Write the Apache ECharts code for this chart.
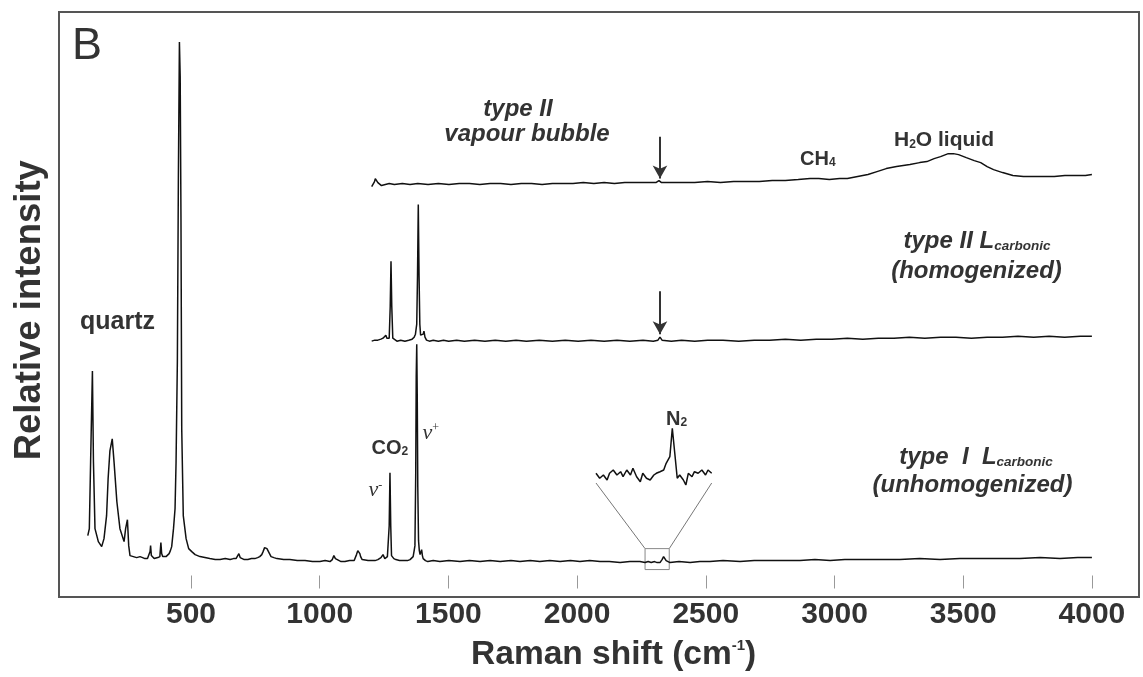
<!DOCTYPE html>
<html>
<head>
<meta charset="utf-8">
<script src="https://cdn.jsdelivr.net/npm/echarts@6/dist/echarts.min.js"></script>
<style>
  html, body { margin: 0; padding: 0; background: #fff; }
  #chart { width: 1143px; height: 677px; }
</style>
</head>
<body>
<div id="chart"></div>
<script>
// Raman spectra of fluid inclusions, stacked with a vertical offset.
// Shift in cm-1, intensity in arbitrary (offset) units.

const xTicks = [500, 1000, 1500, 2000, 2500, 3000, 3500, 4000];

// type I, L carbonic (unhomogenized) – includes the quartz host bands
const typeIShift = [99,105,110,117,121,127,140,153,162,172,178,185,194,201,212,224,240,246,253,258,263,276,289,302,312,321,331,337,341,343,346,349,357,364,371,379,381,383,386,390,397,403,409,415,420,425,432,438,442,447,451,455,458,461,464,470,481,491,503,516,535,554,573,594,613,633,652,665,675,681,686,691,694,707,721,735,748,759,767,775,780,786,790,795,799,805,811,822,834,860,884,913,943,972,1001,1021,1040,1049,1055,1061,1067,1083,1098,1116,1134,1139,1143,1148,1152,1156,1159,1165,1172,1188,1203,1215,1226,1238,1242,1246,1250,1253,1258,1263,1267,1270,1273,1276,1279,1282,1288,1296,1310,1327,1341,1351,1358,1363,1367,1370,1373,1375,1377,1379,1381,1384,1387,1390,1393,1396,1399,1402,1411,1420,1441,1467,1502,1545,1582,1623,1662,1701,1743,1778,1818,1855,1894,1934,1974,2011,2049,2089,2125,2167,2205,2244,2264,2276,2288,2301,2311,2318,2322,2326,2330,2336,2346,2361,2396,2439,2477,2516,2567,2633,2688,2749,2809,2866,2924,2983,3040,3099,3170,3254,3331,3410,3487,3566,3643,3720,3799,3876,3945,4000];
const typeIIntensity = [60,67,134,225,134,67,54,49,57,80,117,145,157,134,94,67,54,67,76,50,40,39,38,39,38,37,37,38,44,50,40,38,37,37,38,39,46,53,42,39,38,39,40,42,45,49,67,87,134,234,420,555,520,380,167,80,57,47,44,41,39,38,37,36,36,37,36,37,37,39,42,38,37,36,36,37,37,38,39,41,44,48,49,47,45,42,39,38,37,36,36,35,35,34,34,35,34,36,40,37,35,34,34,35,35,37,41,45,47,42,39,36,35,35,35,35,36,38,40,41,39,37,38,39,40,70,123,70,40,39,37,36,35,35,35,36,37,39,45,50,120,220,252,200,110,55,45,41,43,46,40,37,35,34,35,34,35,34,35,34,35,34,35,34,35,34,35,34,35,34,35,34,34,33,34,34,33,34,33,34,33,34,33,34,36,39,35,33,34,33,34,34,35,34,35,35,35,35,36,35,36,36,36,36,37,36,37,37,37,37,38,37,38,38,38,38];

// type II, L carbonic (homogenized)
const typeIIShift = [1202,1214,1226,1238,1246,1252,1257,1261,1266,1270,1274,1277,1280,1284,1290,1300,1315,1331,1346,1359,1367,1372,1374,1377,1380,1383,1386,1389,1392,1397,1402,1405,1409,1415,1426,1441,1461,1481,1501,1532,1562,1602,1642,1682,1723,1763,1803,1853,1904,1954,2004,2054,2105,2155,2205,2256,2296,2314,2322,2330,2366,2406,2457,2507,2567,2628,2688,2748,2809,2869,2929,2990,3050,3110,3170,3231,3291,3351,3412,3472,3532,3593,3653,3713,3774,3834,3894,3955,4000];
const typeIIIntensity = [255,256,256,257,258,260,261,258,257,258,290,335,290,258,256,255,256,255,256,257,259,262,264,272,320,392,320,272,261,259,262,265,259,256,255,256,255,256,255,256,255,256,255,256,255,256,255,256,255,256,255,256,255,256,255,256,255,256,259,256,255,256,255,256,256,255,256,256,257,256,257,257,258,257,258,258,259,258,259,259,258,259,259,260,259,260,259,260,260];

// type II, vapour bubble
const vapourShift = [1202,1208,1213,1216,1219,1222,1226,1232,1240,1255,1270,1290,1321,1351,1381,1421,1461,1502,1542,1582,1622,1662,1703,1743,1783,1823,1864,1904,1944,1984,2024,2065,2105,2145,2185,2225,2266,2306,2318,2322,2328,2366,2406,2457,2507,2557,2608,2658,2708,2758,2809,2859,2905,2939,2980,3020,3050,3090,3130,3165,3201,3241,3293,3331,3359,3387,3412,3442,3462,3482,3512,3543,3568,3593,3618,3653,3693,3734,3774,3814,3854,3895,3935,3975,4000];
const vapourIntensity = [410,412,415,418,420,417,414,412,411,412,413,412,413,412,413,412,413,412,413,413,412,413,413,412,413,413,412,413,413,413,414,413,414,413,414,414,414,414,416,416,414,414,414,414,415,414,415,415,415,416,416,417,418,418,417,418,418,420,422,425,428,430,432,434,435,438,440,443,443,442,439,436,434,430,427,424,421,420,420,420,420,421,421,421,422];

// magnified N2 window of the type I spectrum
const n2Shift = [2264,2267,2270,2273,2275,2278,2281,2284,2286,2289,2292,2294,2297,2300,2302,2305,2308,2311,2313,2316,2319,2321,2324,2326,2328,2330,2332,2335,2337,2339,2342,2344,2347,2350,2353,2355,2358];
const n2Intensity = [11.7,6.7,10,5,11.7,15,10,13.3,8.3,15,10,16.7,8.3,3.3,11.7,6.7,5,10,11.7,13.3,15,21.7,28.3,56.7,31.7,6.7,10,5,0,11.7,8.3,13.3,11.7,15,10,15,11.7];

// window shown in the magnified view
const n2Window = [2264, 2358];
const arrowShift = 2322;

const pairs = (xs, ys) => xs.map((x, i) => [x, ys[i]]);

const SANS = "'Liberation Sans', Arial, Helvetica, sans-serif";
const SERIF = "'Liberation Serif', 'Times New Roman', serif";
const TXT = '#333';

const chart = echarts.init(document.getElementById('chart'), null, { renderer: 'canvas' });

const spectrumLine = { color: '#111', width: 1.5 };

const arrowMark = (from, to) => ({
  silent: true,
  symbol: ['none', 'arrow'],
  symbolSize: [11, 13],
  label: { show: false },
  lineStyle: { color: '#333', width: 2, type: 'solid' },
  data: [[{ coord: [arrowShift, from] }, { coord: [arrowShift, to] }]]
});

function txt(id, x, y, text, font, align, rich) {
  return {
    type: 'text', id: id, x: x, y: y, silent: true,
    style: { text: text, font: font, fill: TXT, align: align || 'left', verticalAlign: 'middle', rich: rich }
  };
}

const bi24 = 'italic bold 24px ' + SANS;
const carbRich = {
  m: { font: bi24, lineHeight: 24, fill: TXT },
  c: { font: 'italic bold 13.5px ' + SANS, lineHeight: 6.6, verticalAlign: 'bottom', fill: TXT }
};

const option = {
  animation: false,
  backgroundColor: '#fff',
  grid: [
    { left: 62.3, top: 12, right: 4, bottom: 80 },
    { left: 596, width: 115.7, top: 420, height: 65 }
  ],
  xAxis: [
    {
      type: 'value', gridIndex: 0, min: 0, max: 4183, interval: 500, offset: -7,
      axisLine: { show: false },
      axisTick: { show: true, inside: true, length: 13, customValues: xTicks, lineStyle: { color: '#999', width: 1 } },
      splitLine: { show: false },
      axisLabel: {
        margin: 11, customValues: xTicks,
        color: TXT, fontWeight: 'bold', fontSize: 30, fontFamily: SANS,
        formatter: v => String(v)
      },
      name: 'Raman shift (cm{p|-1})',
      nameLocation: 'middle', nameGap: 50,
      nameTextStyle: {
        color: TXT, fontWeight: 'bold', fontSize: 33.5, fontFamily: SANS, lineHeight: 33,
        padding: [0, 0, 0, 26],
        rich: { p: { fontSize: 15, fontWeight: 'bold', fontFamily: SANS, lineHeight: 19.6, verticalAlign: 'top', color: TXT } }
      }
    },
    { type: 'value', gridIndex: 1, min: n2Window[0], max: n2Window[1], show: false }
  ],
  yAxis: [
    {
      type: 'value', gridIndex: 0, min: 0, max: 585,
      axisLine: { show: false }, axisTick: { show: false }, axisLabel: { show: false }, splitLine: { show: false },
      name: 'Relative intensity', nameLocation: 'middle', nameRotate: 90, nameGap: 14,
      nameTextStyle: { color: TXT, fontWeight: 'bold', fontSize: 36.5, fontFamily: SANS, padding: [0, 13, 0, 0] }
    },
    { type: 'value', gridIndex: 1, min: 0, max: 65, show: false }
  ],
  series: [
    {
      name: 'type I', type: 'line', xAxisIndex: 0, yAxisIndex: 0,
      data: pairs(typeIShift, typeIIntensity), showSymbol: false, lineStyle: spectrumLine,
      markArea: {
        silent: true,
        itemStyle: { color: 'rgba(0,0,0,0)', borderColor: '#888', borderWidth: 1 },
        data: [[{ coord: [n2Window[0], 47] }, { coord: [n2Window[1], 26] }]]
      }
    },
    {
      name: 'type II homogenized', type: 'line', xAxisIndex: 0, yAxisIndex: 0,
      data: pairs(typeIIShift, typeIIIntensity), showSymbol: false, lineStyle: spectrumLine,
      markLine: arrowMark(305, 262)
    },
    {
      name: 'type II vapour', type: 'line', xAxisIndex: 0, yAxisIndex: 0,
      data: pairs(vapourShift, vapourIntensity), showSymbol: false, lineStyle: spectrumLine,
      markLine: arrowMark(460, 418)
    },
    {
      name: 'N2 detail', type: 'line', xAxisIndex: 1, yAxisIndex: 1,
      data: pairs(n2Shift, n2Intensity), showSymbol: false, lineStyle: { color: '#111', width: 1.5 }
    }
  ],
  graphic: { elements: [
    // plot frame
    { type: 'rect', id: 'frame', silent: true, z: 10, shape: { x: 59, y: 12, width: 1080, height: 585 },
      style: { fill: 'none', stroke: '#555', lineWidth: 2 } },
    txt('panel', 72, 47, 'B', 'normal 45px ' + SANS),
    txt('quartz', 80, 322, 'quartz', 'bold 25px ' + SANS),
    txt('co2', 371.5, 448, '{m|CO}{s|2}', 'bold 20px ' + SANS, 'left', {
      m: { font: 'bold 20px ' + SANS, lineHeight: 20, fill: TXT },
      s: { font: 'bold 12px ' + SANS, lineHeight: 8.4, verticalAlign: 'bottom', fill: TXT }
    }),
    txt('nuMinus', 368.5, 490.6, '{m|\u03bd}{p|-}', 'italic 22px ' + SERIF, 'left', {
      m: { font: 'italic 22px ' + SERIF, lineHeight: 22, fill: TXT },
      p: { font: '12px ' + SERIF, lineHeight: 8, verticalAlign: 'top', fill: TXT }
    }),
    txt('nuPlus', 422.5, 433, '{m|\u03bd}{p|+}', 'italic 22px ' + SERIF, 'left', {
      m: { font: 'italic 22px ' + SERIF, lineHeight: 22, fill: TXT },
      p: { font: '12px ' + SERIF, lineHeight: 8, verticalAlign: 'top', fill: TXT }
    }),
    txt('n2', 666, 419, '{m|N}{s|2}', 'bold 20px ' + SANS, 'left', {
      m: { font: 'bold 20px ' + SANS, lineHeight: 20, fill: TXT },
      s: { font: 'bold 12px ' + SANS, lineHeight: 6.4, verticalAlign: 'bottom', fill: TXT }
    }),
    txt('ch4', 800, 159, '{m|CH}{s|4}', 'bold 20px ' + SANS, 'left', {
      m: { font: 'bold 20px ' + SANS, lineHeight: 20, fill: TXT },
      s: { font: 'bold 12px ' + SANS, lineHeight: 6.4, verticalAlign: 'bottom', fill: TXT }
    }),
    txt('h2o', 894, 140, '{m|H}{s|2}{m|O liquid}', 'bold 21px ' + SANS, 'left', {
      m: { font: 'bold 21px ' + SANS, lineHeight: 21, fill: TXT },
      s: { font: 'bold 12px ' + SANS, lineHeight: 12.7, verticalAlign: 'bottom', fill: TXT }
    }),
    txt('vap1', 518, 109.5, 'type II', bi24, 'center'),
    txt('vap2', 527, 134.5, 'vapour bubble', bi24, 'center'),
    txt('hom1', 977, 241, '{m|type II L}{c|carbonic}', bi24, 'center', carbRich),
    txt('hom2', 976.5, 271, '(homogenized)', bi24, 'center'),
    txt('unh1', 976, 457.7, '{m|type  I  L}{c|carbonic}', bi24, 'center', carbRich),
    txt('unh2', 972.5, 485, '(unhomogenized)', bi24, 'center')
  ] }
};

chart.setOption(option);

// connector lines between the marked window and its magnified trace
const boxTL = chart.convertToPixel({ gridIndex: 0 }, [n2Window[0], 47]);
const boxTR = chart.convertToPixel({ gridIndex: 0 }, [n2Window[1], 47]);
const zoomL = chart.convertToPixel({ gridIndex: 1 }, [n2Window[0], 2]);
const zoomR = chart.convertToPixel({ gridIndex: 1 }, [n2Window[1], 2]);
chart.setOption({ graphic: { elements: [
  { type: 'line', id: 'connL', silent: true, shape: { x1: boxTL[0], y1: boxTL[1], x2: zoomL[0], y2: zoomL[1] }, style: { stroke: '#777', lineWidth: 1 } },
  { type: 'line', id: 'connR', silent: true, shape: { x1: boxTR[0], y1: boxTR[1], x2: zoomR[0], y2: zoomR[1] }, style: { stroke: '#777', lineWidth: 1 } }
] } });
</script>
</body>
</html>
